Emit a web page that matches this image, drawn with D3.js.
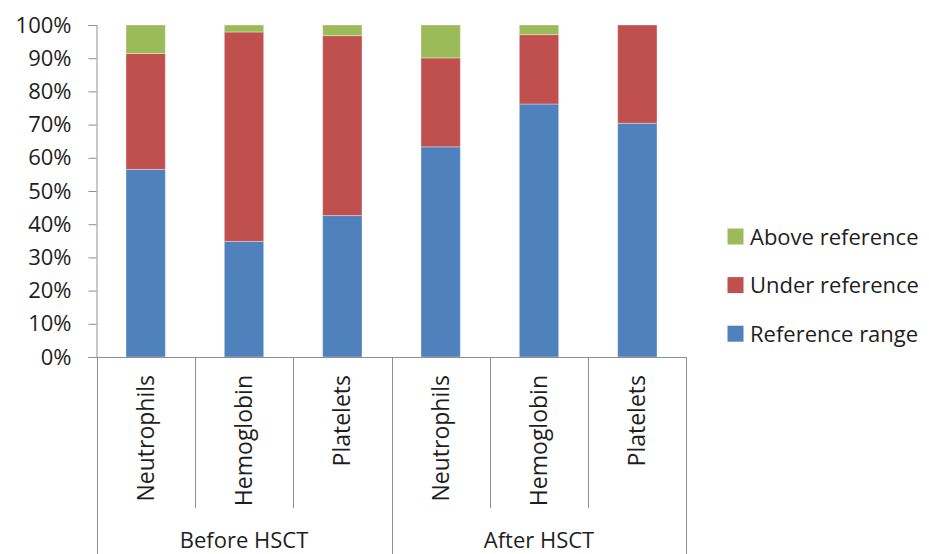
<!DOCTYPE html>
<html>
<head>
<meta charset="utf-8">
<script src="https://cdn.jsdelivr.net/npm/d3@7"></script>
<style>
  html, body { margin: 0; padding: 0; background: #fff; }
  svg text { font-family: "Open Sans", "Noto Sans", sans-serif; fill: #1e1e1e; }
</style>
</head>
<body>
<svg id="chart" width="929" height="554"></svg>
<script>
// Blood count status before and after HSCT (share of patients, %)
const groups = ["Before HSCT", "After HSCT"];
const categories = ["Neutrophils", "Hemoglobin", "Platelets"];
const seriesNames = ["Reference range", "Under reference", "Above reference"];
const referenceRange = [56.5, 34.8, 42.6, 63.3, 76.2, 70.4];
const underReference = [34.9, 63.1, 54.2, 26.8, 20.9, 29.6];
const aboveReference = [8.6, 2.1, 3.2, 9.9, 2.9, 0.0];
const yTicks = [0, 10, 20, 30, 40, 50, 60, 70, 80, 90, 100];
const colors = ["#4f81bd", "#c0504d", "#9bbb59"];

const rows = [];
groups.forEach((g, gi) => categories.forEach((c, ci) => {
  const i = gi * categories.length + ci;
  rows.push({
    key: g + "|" + c, group: g, category: c,
    "Reference range": referenceRange[i],
    "Under reference": underReference[i],
    "Above reference": aboveReference[i]
  });
}));

const svg = d3.select("#chart");
const plotLeft = 96.5, plotRight = 686.5, plotTop = 25, plotBottom = 357;
const axisColor = "#8f8f8f";

const x = d3.scaleBand().domain(rows.map(r => r.key))
  .range([plotLeft, plotRight]).paddingInner(0.6).paddingOuter(0.3);
const y = d3.scaleLinear().domain([0, 100]).range([plotBottom, plotTop]);

const stacked = d3.stack().keys(seriesNames)(rows);

// stacked bars
svg.append("g").selectAll("g").data(stacked).join("g")
  .attr("fill", (d, i) => colors[i])
  .selectAll("rect").data(d => d.filter(p => p[1] - p[0] > 0)).join("rect")
  .attr("x", d => x(d.data.key))
  .attr("width", x.bandwidth())
  .attr("y", d => y(d[1]))
  .attr("height", d => y(d[0]) - y(d[1]))
  .attr("stroke", "rgba(255,255,255,0.35)")
  .attr("stroke-width", 1);

// y axis
const yAxis = d3.axisLeft(y).tickValues(yTicks).tickFormat(d => d + "%")
  .tickSize(8).tickPadding(17);
const ya = svg.append("g").attr("transform", `translate(${plotLeft},0)`).call(yAxis);
ya.select(".domain").attr("stroke", axisColor);
ya.selectAll(".tick line").attr("stroke", axisColor);
ya.selectAll(".tick text").attr("font-size", 22).attr("fill", "#1e1e1e")
  .attr("font-family", "'Open Sans', sans-serif");

// x axis baseline
svg.append("line").attr("x1", plotLeft).attr("x2", plotRight)
  .attr("y1", plotBottom + 0.5).attr("y2", plotBottom + 0.5).attr("stroke", axisColor);

// category separators and labels
const step = x.step();
const bandStart = key => x(key) - x.paddingInner() * step / 2;
rows.forEach((r, i) => {
  const x0 = bandStart(r.key);
  const cx = x0 + step / 2;
  const isGroupEdge = i % categories.length === 0;
  svg.append("line")
    .attr("x1", Math.round(x0) + 0.5).attr("x2", Math.round(x0) + 0.5)
    .attr("y1", plotBottom).attr("y2", isGroupEdge ? 554 : 508)
    .attr("stroke", axisColor);
  svg.append("text")
    .attr("transform", `translate(${cx + 8},375) rotate(-90)`)
    .attr("text-anchor", "end")
    .attr("font-size", 23)
    .text(r.category);
});
svg.append("line").attr("x1", plotRight).attr("x2", plotRight)
  .attr("y1", plotBottom).attr("y2", 554).attr("stroke", axisColor);

// group labels
groups.forEach((g, gi) => {
  const first = rows[gi * categories.length].key;
  const last = rows[gi * categories.length + categories.length - 1].key;
  const gx = (bandStart(first) + bandStart(last) + step) / 2;
  svg.append("text").attr("x", gx).attr("y", 548)
    .attr("text-anchor", "middle").attr("font-size", 22).text(g);
});

// legend (top entry = top of the stack)
const legendItems = seriesNames.map((s, i) => ({ name: s, color: colors[i] })).reverse();
const lg = svg.append("g");
legendItems.forEach((d, i) => {
  const cy = 236.5 + i * 48.6;
  lg.append("rect").attr("x", 727.5).attr("y", cy - 8).attr("width", 16).attr("height", 16)
    .attr("fill", d.color);
  lg.append("text").attr("x", 750).attr("y", cy + 8).attr("font-size", 22).text(d.name);
});
</script>
</body>
</html>
